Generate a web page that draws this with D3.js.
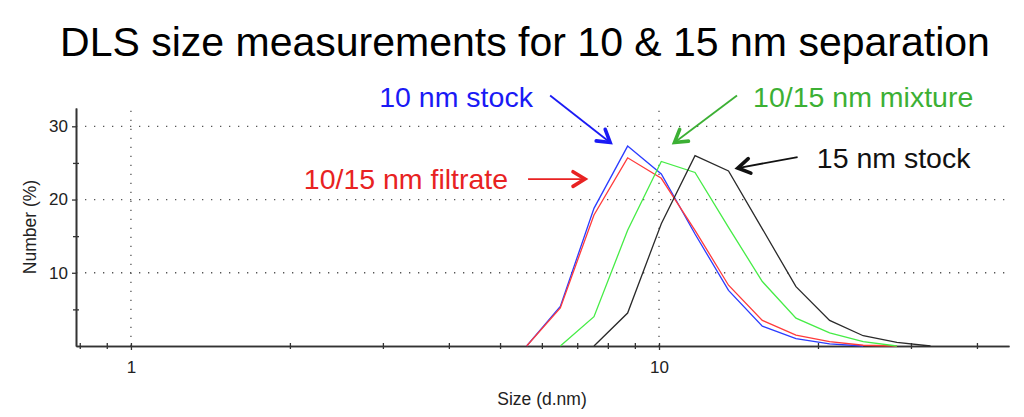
<!DOCTYPE html>
<html>
<head>
<meta charset="utf-8">
<script src="https://d3js.org/d3.v7.min.js"></script>
<style>
  body { margin: 0; background: #fff; }
  text { font-family: "Liberation Sans", Arial, sans-serif; }
</style>
</head>
<body>
<script>
// size classes (d.nm) and number distributions (%)
var sizes    = [5.615, 6.503, 7.531, 8.721, 10.10, 11.70, 13.54, 15.69, 18.17, 21.04, 24.36, 28.21, 32.67];
var stock10  = [0, 5.4, 18.8, 27.3, 23.5, 15.3, 7.6, 2.7, 1.0, 0.3, 0, null, null];
var filtrate = [0, 5.2, 17.9, 25.7, 22.9, 15.8, 8.3, 3.5, 1.5, 0.6, 0.1, 0, null];
var mixture  = [null, 0, 4.0, 15.8, 25.2, 23.7, 16.2, 8.8, 3.8, 1.8, 0.6, 0, null];
var stock15  = [null, null, 0, 4.5, 16.7, 26.0, 23.9, 16.0, 8.1, 3.5, 1.4, 0.5, 0];

var yMajor = [10, 20, 30];
var yMinor = [5, 15, 25];
var xMajor = [1, 10];
var xMinor = [0.8, 0.9, 2, 3, 4, 5, 6, 7, 8, 9, 20, 30, 40];

var series = [
  { name: "10 nm stock",       values: stock10,  color: "#2b3cff" },
  { name: "10/15 nm filtrate", values: filtrate, color: "#ff3b3b" },
  { name: "10/15 nm mixture",  values: mixture,  color: "#46ec46" },
  { name: "15 nm stock",       values: stock15,  color: "#2a2a2a" }
];

// callouts, in data units (size, %)
var notes = [
  { text: "10 nm stock",       color: "#1a1af5", lx: 5.77, ly: 32.7, anchor: "end",   from: [6.22, 34.2], to: [8.08, 27.8] },
  { text: "10/15 nm filtrate", color: "#e82222", lx: 5.18, ly: 21.5, anchor: "end",   from: [5.65, 22.8], to: [7.24, 22.8] },
  { text: "10/15 nm mixture",  color: "#3cb034", lx: 15.07, ly: 32.7, anchor: "start", from: [14.05, 34.2], to: [10.7, 27.8] },
  { text: "15 nm stock",       color: "#111111", lx: 19.9, ly: 24.3, anchor: "start", from: [18.3, 25.8], to: [14.1, 24.3] }
];

var W = 1024, H = 417;
var svg = d3.select("body").append("svg")
  .attr("width", W)
  .attr("height", H);

var x = d3.scaleLog().domain([0.787, 46]).range([76, 1009]);
var y = d3.scaleLinear().domain([0, 32.5]).range([346, 108]);

svg.append("text")
  .attr("x", 525).attr("y", 56)
  .attr("text-anchor", "middle")
  .style("font-size", "41px")
  .text("DLS size measurements for 10 & 15 nm separation");

// dotted grid
var grid = svg.append("g")
  .attr("stroke", "#555")
  .attr("stroke-width", 1.3)
  .attr("stroke-dasharray", "1.3 7.7");
grid.selectAll(".gy").data(yMajor).enter().append("line")
  .attr("x1", x.range()[0]).attr("x2", x.range()[1])
  .attr("y1", d => y(d)).attr("y2", d => y(d));
grid.selectAll(".gx").data(xMajor).enter().append("line")
  .attr("x1", d => x(d)).attr("x2", d => x(d))
  .attr("y1", y.range()[0]).attr("y2", y.range()[1]);

// axes
var axisColor = "#333";
function styleAxis(g) {
  g.select(".domain").attr("stroke", axisColor).attr("stroke-width", 1.6);
  g.selectAll(".tick line").attr("stroke", axisColor).attr("stroke-width", 1.3);
  g.selectAll(".tick text").attr("fill", "#222").style("font-size", "17px")
    .style("font-family", "'Liberation Sans', Arial, sans-serif");
}

svg.append("g")
  .attr("transform", "translate(0," + y(0) + ")")
  .call(d3.axisBottom(x).tickValues(xMinor).tickSize(3).tickSizeOuter(0).tickFormat(""))
  .call(g => g.selectAll(".tick line").attr("y1", -3))
  .call(styleAxis);
svg.append("g")
  .attr("transform", "translate(0," + y(0) + ")")
  .call(d3.axisBottom(x).tickValues(xMajor).tickSize(4).tickSizeOuter(0).tickPadding(11).tickFormat(d3.format("d")))
  .call(g => g.selectAll(".tick line").attr("y1", -3))
  .call(styleAxis);

svg.append("g")
  .attr("transform", "translate(" + x.range()[0] + ",0)")
  .call(d3.axisLeft(y).tickValues(yMinor).tickSize(3).tickSizeOuter(0).tickFormat(""))
  .call(g => g.selectAll(".tick line").attr("x1", 3))
  .call(styleAxis);
svg.append("g")
  .attr("transform", "translate(" + x.range()[0] + ",0)")
  .call(d3.axisLeft(y).tickValues(yMajor).tickSize(4).tickSizeOuter(0).tickPadding(4).tickFormat(d3.format("d")))
  .call(styleAxis);

svg.append("text")
  .attr("transform", "translate(36,227) rotate(-90)")
  .attr("text-anchor", "middle")
  .attr("fill", "#222")
  .style("font-size", "17.5px")
  .text("Number (%)");

svg.append("text")
  .attr("x", 542).attr("y", 405)
  .attr("text-anchor", "middle")
  .attr("fill", "#222")
  .style("font-size", "17.5px")
  .text("Size (d.nm)");

// distribution curves
var line = d3.line()
  .defined(d => d[1] != null)
  .x(d => x(d[0]))
  .y(d => y(d[1]));

svg.selectAll(".curve").data(series).enter().append("path")
  .attr("class", "curve")
  .attr("fill", "none")
  .attr("stroke", d => d.color)
  .attr("stroke-width", 1.3)
  .attr("d", d => line(sizes.map((s, i) => [s, d.values[i]])));

// callout labels and arrows
var ann = svg.selectAll(".note").data(notes).enter().append("g").attr("class", "note");
ann.append("text")
  .attr("x", d => x(d.lx)).attr("y", d => y(d.ly))
  .attr("text-anchor", d => d.anchor)
  .attr("fill", d => d.color)
  .style("font-size", "28.5px")
  .text(d => d.text);
ann.append("line")
  .attr("x1", d => x(d.from[0])).attr("y1", d => y(d.from[1]))
  .attr("x2", d => x(d.to[0])).attr("y2", d => y(d.to[1]))
  .attr("stroke", d => d.color)
  .attr("stroke-width", 1.8);
ann.append("path")
  .attr("fill", "none")
  .attr("stroke", d => d.color)
  .attr("stroke-width", 3.6)
  .attr("stroke-linecap", "round")
  .attr("stroke-linejoin", "miter")
  .attr("d", function(d) {
    var x1 = x(d.from[0]), y1 = y(d.from[1]);
    var x2 = x(d.to[0]), y2 = y(d.to[1]);
    var a = Math.atan2(y2 - y1, x2 - x1), L = 14, s = 0.55;
    return "M" + (x2 - L * Math.cos(a - s)) + "," + (y2 - L * Math.sin(a - s)) +
      "L" + x2 + "," + y2 +
      "L" + (x2 - L * Math.cos(a + s)) + "," + (y2 - L * Math.sin(a + s));
  });
</script>
</body>
</html>
